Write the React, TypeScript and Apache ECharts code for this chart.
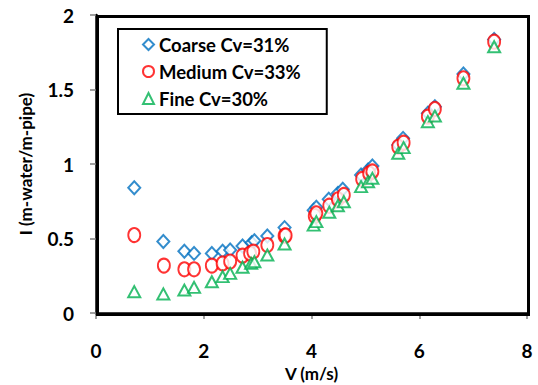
import React, { useEffect, useRef } from "react";
import * as echarts from "echarts";

const coarseV = [0.71, 1.25, 1.64, 1.82, 2.15, 2.35, 2.49, 2.72, 2.89, 2.94, 3.18, 3.5, 4.04, 4.09, 4.32, 4.49, 4.58, 4.92, 5.05, 5.13, 5.61, 5.7, 6.16, 6.29, 6.82, 7.39];
const coarseI = [0.84, 0.48, 0.415, 0.4, 0.4, 0.415, 0.423, 0.45, 0.472, 0.485, 0.517, 0.573, 0.69, 0.71, 0.763, 0.803, 0.83, 0.926, 0.96, 0.987, 1.128, 1.172, 1.34, 1.385, 1.604, 1.835];

const mediumV = [0.71, 1.26, 1.64, 1.82, 2.15, 2.35, 2.49, 2.72, 2.86, 2.92, 3.18, 3.5, 3.52, 4.06, 4.09, 4.33, 4.49, 4.6, 4.94, 5.07, 5.13, 5.61, 5.71, 6.16, 6.29, 6.82, 7.39];
const mediumI = [0.523, 0.318, 0.293, 0.293, 0.318, 0.333, 0.345, 0.385, 0.4, 0.412, 0.456, 0.519, 0.52, 0.651, 0.669, 0.72, 0.763, 0.792, 0.9, 0.937, 0.95, 1.116, 1.143, 1.318, 1.369, 1.575, 1.821];

const fineV = [0.71, 1.25, 1.64, 1.82, 2.15, 2.35, 2.49, 2.72, 2.88, 2.94, 3.18, 3.5, 4.04, 4.09, 4.33, 4.49, 4.6, 4.92, 5.05, 5.13, 5.61, 5.71, 6.16, 6.29, 6.82, 7.39];
const fineI = [0.143, 0.128, 0.154, 0.172, 0.21, 0.244, 0.266, 0.307, 0.333, 0.344, 0.389, 0.463, 0.59, 0.613, 0.676, 0.72, 0.747, 0.848, 0.881, 0.904, 1.072, 1.11, 1.284, 1.322, 1.542, 1.787];

const seriesNames = ["Coarse Cv=31%", "Medium Cv=33%", "Fine Cv=30%"];
const xTicks = [0, 2, 4, 6, 8];
const yTicks = [0, 0.5, 1, 1.5, 2];

const FONT = "Lato, 'Open Sans', sans-serif";

function zip(xs: number[], ys: number[]) {
  return xs.map((x, i) => [x, ys[i]]);
}

export default function App() {
  const ref = useRef<HTMLDivElement>(null);
  useEffect(() => {
    if (!ref.current) return;
    document.body.style.margin = "0";
    const chart = echarts.init(ref.current, null, { renderer: "svg" });
    const xMin = xTicks[0];
    const xMax = xTicks[xTicks.length - 1];
    const yMin = yTicks[0];
    const yMax = yTicks[yTicks.length - 1];
    const left = 96;
    const top = 15;
    const right = 11;
    const bottom = 72;
    chart.setOption({
      animation: false,
      backgroundColor: "#ffffff",
      grid: { left, top, right, bottom, containLabel: false, outerBoundsMode: "none" },
      legend: {
        orient: "vertical",
        left: 118,
        top: 29,
        padding: [6, 26, 6, 24],
        itemGap: 8,
        itemWidth: 11,
        itemHeight: 11,
        borderColor: "#000000",
        borderWidth: 2,
        data: seriesNames,
        textStyle: { fontFamily: FONT, fontWeight: "bold", fontSize: 18.5, color: "#000" },
      },
      graphic: [
        {
          type: "rect",
          silent: true,
          left,
          top,
          z: 10,
          shape: { width: 538 - left - right, height: 385 - top - bottom },
          style: { fill: "rgba(0,0,0,0)", stroke: "#000000", lineWidth: 3 },
        },
      ],
      xAxis: {
        type: "value",
        min: xMin,
        max: xMax,
        interval: 2,
        name: "V (m/s)",
        nameLocation: "middle",
        nameGap: 45,
        nameTextStyle: { fontFamily: FONT, fontWeight: "bold", fontSize: 17, color: "#000" },
        axisLine: { show: true, onZero: false, lineStyle: { color: "#000", width: 2.5 } },
        axisTick: { show: true, inside: false, length: 6, lineStyle: { color: "#808080", width: 1.5 } },
        axisLabel: { margin: 28, fontFamily: FONT, fontWeight: "bold", fontSize: 19, color: "#000" },
        splitLine: { show: false },
      },
      yAxis: {
        type: "value",
        min: yMin,
        max: yMax,
        interval: 0.5,
        name: "I (m-water/m-pipe)",
        nameLocation: "middle",
        nameGap: 62,
        nameTextStyle: { fontFamily: FONT, fontWeight: "bold", fontSize: 17, color: "#000" },
        axisLine: { show: true, onZero: false, lineStyle: { color: "#000", width: 2.5 } },
        axisTick: { show: true, inside: false, length: 6, lineStyle: { color: "#808080", width: 1.5 } },
        axisLabel: { margin: 22, fontFamily: FONT, fontWeight: "bold", fontSize: 19, color: "#000" },
        splitLine: { show: false },
      },
      series: [
        {
          name: seriesNames[0],
          type: "scatter",
          data: zip(coarseV, coarseI),
          symbol: "emptyDiamond",
          symbolSize: [12, 13],
          itemStyle: { color: "#0070C0", borderColor: "#0070C0", borderWidth: 2 },
          z: 3,
        },
        {
          name: seriesNames[1],
          type: "scatter",
          data: zip(mediumV, mediumI),
          symbol: "emptyCircle",
          symbolSize: [12, 14],
          itemStyle: { color: "#FF0000", borderColor: "#FF0000", borderWidth: 2 },
          z: 4,
        },
        {
          name: seriesNames[2],
          type: "scatter",
          data: zip(fineV, fineI),
          symbol: "emptyTriangle",
          symbolSize: [12, 11],
          itemStyle: { color: "#00B050", borderColor: "#00B050", borderWidth: 2 },
          z: 5,
        },
      ],
    });
    return () => chart.dispose();
  }, []);
  return <div ref={ref} style={{ width: 538, height: 385 }} />;
}
